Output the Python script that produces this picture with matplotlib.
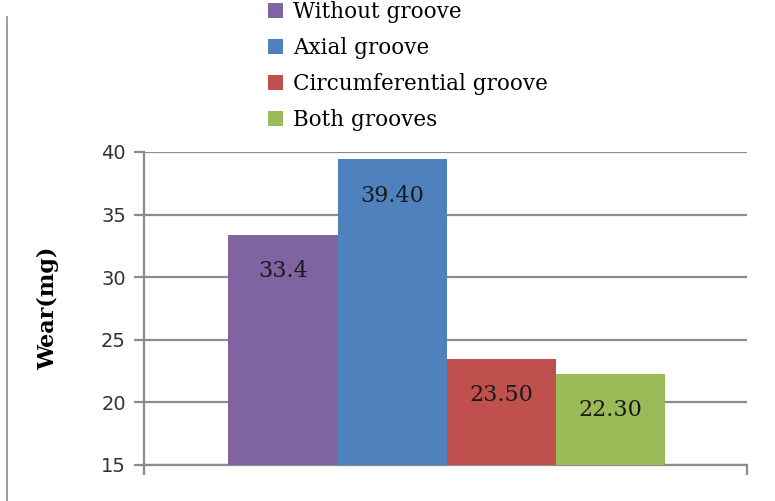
import matplotlib
matplotlib.use("Agg")
from matplotlib import pyplot as plt
from matplotlib.lines import Line2D
from matplotlib.patches import Patch
import numpy as np

# series (one category, four grooving cases)
series = ["Without groove", "Axial groove", "Circumferential groove", "Both grooves"]
wear = [33.4, 39.40, 23.50, 22.30]
value_labels = ["33.4", "39.40", "23.50", "22.30"]
colors = ["#8064A2", "#4F81BD", "#C0504D", "#9BBB59"]
yticks = [15, 20, 25, 30, 35, 40]

fig = plt.figure(figsize=(7.75, 5.01), dpi=100)
ax = fig.add_axes([0.1858, 0.0719, 0.7781, 0.6248])

width = 0.181
offsets = (np.arange(len(series)) - 1.5) * width + 0.002
bars = ax.bar(offsets, np.array(wear) - 15, width=width, bottom=15,
              color=colors, zorder=3, linewidth=0)

for b, lab in zip(bars, value_labels):
    top = b.get_y() + b.get_height()
    ax.annotate(lab, (b.get_x() + b.get_width() / 2, top), xytext=(0, -26),
                textcoords="offset points", ha="center", va="center",
                fontsize=16, family="DejaVu Serif", color="#1a1a1a", zorder=4)

ax.set_xlim(-0.5, 0.5)
ax.set_ylim(15, 40)
ax.set_yticks(yticks)
ax.set_xticks([-0.5, 0.5])
ax.set_xticklabels(["", ""])
ax.yaxis.grid(True, color="#8c8c8c", linewidth=1.6, zorder=0)
ax.set_axisbelow(True)
for s in ["top", "right"]:
    ax.spines[s].set_visible(False)
for s in ["left", "bottom"]:
    ax.spines[s].set_color("#8c8c8c")
    ax.spines[s].set_linewidth(1.6)
ax.tick_params(axis="both", colors="#8c8c8c", length=7, width=1.6, direction="out")
ax.tick_params(axis="y", labelcolor="#333333", labelsize=14, pad=6)

ax.set_ylabel("Wear(mg)", fontsize=16, fontweight="bold", family="DejaVu Serif",
              labelpad=30)

handles = [Patch(facecolor=c, edgecolor="none") for c in colors]
fig.legend(handles, series, loc="center left", bbox_to_anchor=(0.346, 1 - 66 / 501),
           frameon=False, prop={"family": "DejaVu Serif", "size": 15.5},
           handlelength=0.7, handleheight=0.7, handletextpad=0.45,
           labelspacing=0.64, borderaxespad=0, borderpad=0)

# left page border
fig.add_artist(Line2D([0.009, 0.009], [0, 1 - 17 / 501], transform=fig.transFigure,
                      color="#8c8c8c", linewidth=1.2))

fig.savefig("out.png", dpi=100)
